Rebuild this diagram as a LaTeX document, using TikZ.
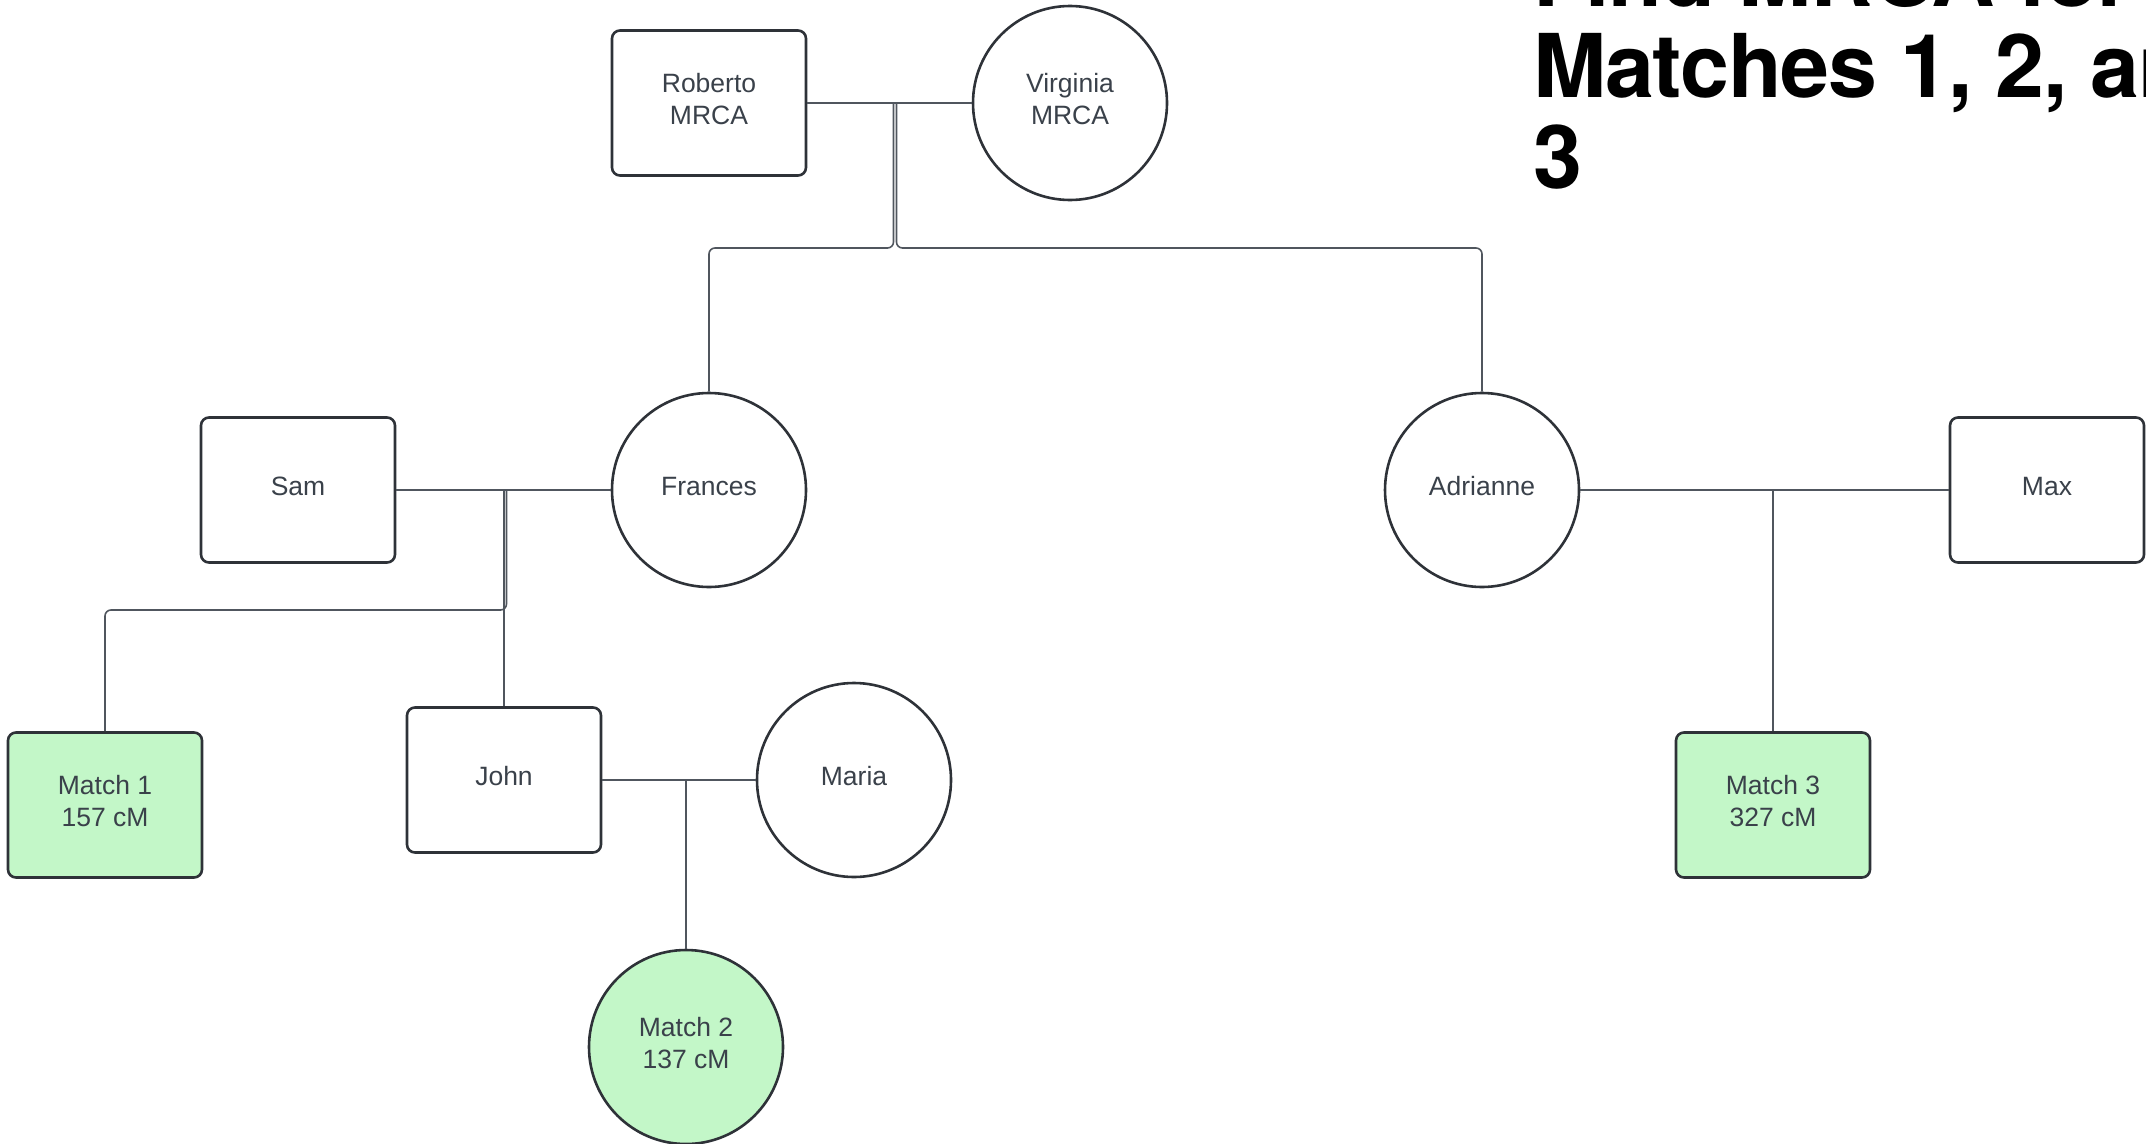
\documentclass[tikz,border=0pt]{standalone}
\usepackage{fontspec}
\setmainfont{Liberation Sans}
\newfontfamily\titlefont[LetterSpace=-1.5]{TeX Gyre Heros}
\definecolor{nodeline}{HTML}{2E3238}
\definecolor{nodetext}{HTML}{3A414A}
\definecolor{linkcol}{HTML}{50565E}
\definecolor{matchgreen}{HTML}{C3F7C8}
\begin{document}
\begin{tikzpicture}[x=1pt,y=-1pt,
  person/.style={draw=nodeline, line width=2.6pt, minimum width=194pt,
    minimum height=145pt, font=\fontsize{26.5}{32}\selectfont,
    text=nodetext, align=center, inner sep=0pt,
    execute at end node={\rule[-8pt]{0pt}{8pt}}},
  male/.style={person, rectangle, rounded corners=8pt},
  female/.style={person, circle, minimum size=194pt},
  match/.style={fill=matchgreen},
  link/.style={draw=linkcol, line width=1.6pt, rounded corners=6pt}]
\useasboundingbox (0,0) rectangle (2146,1143);

% people
\node[male] (roberto) at (709,103) {Roberto\\MRCA};
\node[female] (virginia) at (1070,103) {Virginia\\MRCA};
\node[male] (sam) at (298,490) {Sam};
\node[female] (frances) at (709,490) {Frances};
\node[female] (adrianne) at (1482,490) {Adrianne};
\node[male] (max) at (2047,490) {Max};
\node[male,match] (m1) at (105,805) {Match 1\\157 cM};
\node[male] (john) at (504,780) {John};
\node[female] (maria) at (854,780) {Maria};
\node[female,match] (m2) at (686,1047) {Match 2\\137 cM};
\node[male,match] (m3) at (1773,805) {Match 3\\327 cM};

% couple lines and their descent points
\coordinate (rv) at (895,103);
\coordinate (sf) at (505,490);
\coordinate (jm) at (686,780);
\coordinate (am) at (1773,490);

\draw[link] (roberto.east) -- (virginia.west);
\draw[link] ([xshift=-1.5pt]rv) -- ++(0,145) -| (frances.north);
\draw[link] ([xshift=1.5pt]rv) -- ++(0,145) -| (adrianne.north);

\draw[link] (sam.east) -- (frances.west);
\draw[link] ([xshift=1.5pt]sf) -- ++(0,120) -| (m1.north);
\draw[link] ([xshift=-1pt]sf) -- (john.north);

\draw[link] (john.east) -- (maria.west);
\draw[link] (jm) -- (m2.north);

\draw[link] (adrianne.east) -- (max.west);
\draw[link] (am) -- (m3.north);

% heading (anchored on the baseline of its last line)
\node[anchor=base west, align=left, inner sep=0pt,
  font=\titlefont\bfseries\fontsize{88}{91}\selectfont] (title) at (1533,188)
  {Find MRCA for\\Matches 1, 2, and\\3};
\end{tikzpicture}
\end{document}
